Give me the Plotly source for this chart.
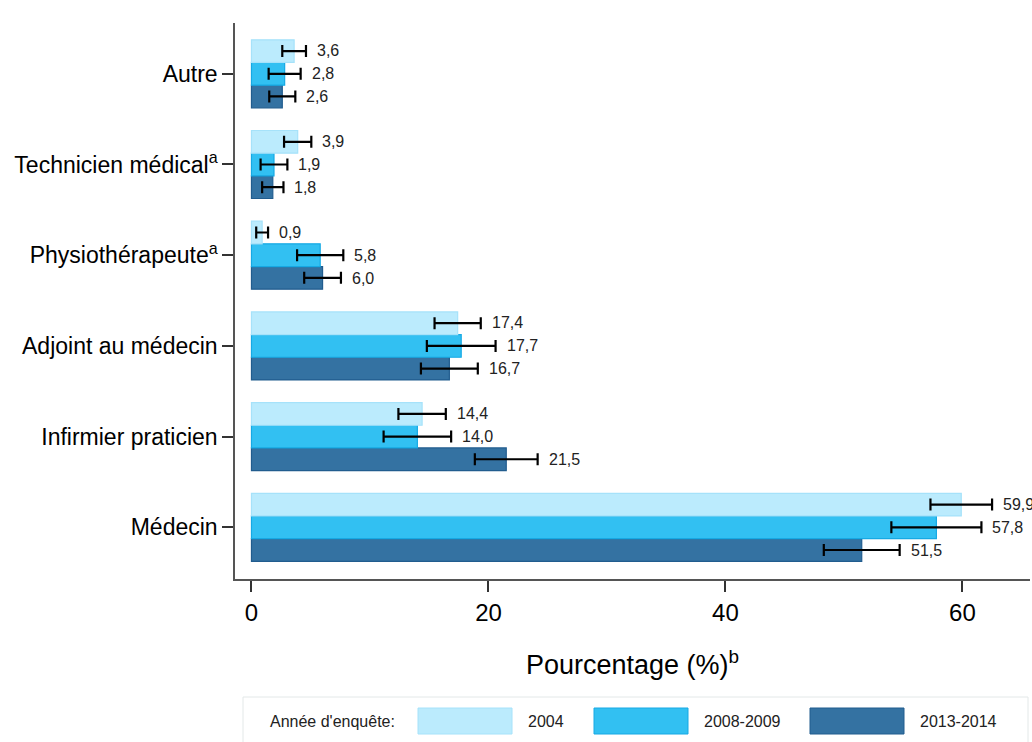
import plotly.graph_objects as go

# Categories, bottom to top as drawn on the y axis
categories = ["Médecin", "Infirmier praticien", "Adjoint au médecin",
              "Physiothérapeute<sup>a</sup>", "Technicien médical<sup>a</sup>", "Autre"]

years = ["2004", "2008-2009", "2013-2014"]

# Percentages per survey year (same order as categories)
pct_2004 = [59.9, 14.4, 17.4, 0.9, 3.9, 3.6]
pct_2008 = [57.8, 14.0, 17.7, 5.8, 1.9, 2.8]
pct_2013 = [51.5, 21.5, 16.7, 6.0, 1.8, 2.6]

# Half-width of the confidence intervals
err_2004 = [2.6, 2.0, 1.95, 0.5, 1.15, 1.0]
err_2008 = [3.8, 2.85, 2.9, 1.95, 1.13, 1.35]
err_2013 = [3.2, 2.65, 2.4, 1.55, 0.9, 1.1]

fills = ["#BBEBFD", "#32C0F2", "#3472A2"]
edges = ["#A6E2FA", "#16A9E4", "#215C8E"]

series = [pct_2004, pct_2008, pct_2013]
errors = [err_2004, err_2008, err_2013]

FONT = "Liberation Sans, Arial, sans-serif"

fig = go.Figure()

# Traces are added last-year first so that 2004 sits on top of each group
for i in [2, 1, 0]:
    fig.add_trace(go.Bar(
        y=categories, x=series[i], orientation="h", name=years[i],
        marker=dict(color=fills[i], line=dict(color=edges[i], width=1.2)),
        error_x=dict(type="data", array=errors[i], color="black",
                     thickness=2.2, width=6),
        showlegend=False,
    ))

# Value labels just right of each error bar
for i in [2, 1, 0]:
    for j, cat in enumerate(categories):
        v = series[i][j]
        fig.add_annotation(
            x=v + errors[i][j], y=cat, xref="x", yref="y",
            text=f"{v:.1f}".replace(".", ","), showarrow=False,
            xanchor="left", xshift=9,
            yshift={0: 23, 1: 0, 2: -23}[i],
            font=dict(family=FONT, size=16, color="#222"),
        )

W, H = 1032, 742
L, R, T, B = 235, 2, 23, 163
pw, ph = W - L - R, H - T - B


def px(x):
    return (x - L) / pw


def py(y):
    return (H - B - y) / ph


# Custom legend strip below the axis
fig.add_shape(type="rect", xref="paper", yref="paper",
              x0=px(243), x1=px(1028), y0=py(697), y1=py(745),
              line=dict(color="#E3E8E8", width=1), fillcolor="white")
fig.add_annotation(xref="paper", yref="paper", x=px(268), y=py(721),
                   text="Année d'enquête:", showarrow=False,
                   xanchor="left", yanchor="middle",
                   font=dict(family=FONT, size=16, color="#222"))
sw_x = [418, 594, 810]
for k in range(3):
    fig.add_shape(type="rect", xref="paper", yref="paper",
                  x0=px(sw_x[k]), x1=px(sw_x[k] + 94), y0=py(734), y1=py(708),
                  line=dict(color=edges[k], width=1), fillcolor=fills[k])
    fig.add_annotation(xref="paper", yref="paper", x=px(sw_x[k] + 108), y=py(721),
                       text=years[k], showarrow=False,
                       xanchor="left", yanchor="middle",
                       font=dict(family=FONT, size=16, color="#222"))

fig.update_layout(
    width=W, height=H,
    margin=dict(l=L, r=R, t=T, b=B),
    paper_bgcolor="white", plot_bgcolor="white",
    barmode="group", bargap=0.25, bargroupgap=0,
    font=dict(family=FONT, color="black"),
    xaxis=dict(
        range=[-1.39, 65.7], tickvals=[0, 20, 40, 60],
        showgrid=False, zeroline=False,
        showline=True, linecolor="#555", linewidth=1.5,
        ticks="outside", ticklen=11, tickcolor="#333", tickwidth=1.5,
        tickfont=dict(size=24, color="black"),
        title=dict(text="Pourcentage (%)<sup>b</sup>", standoff=31,
                   font=dict(size=27, color="black")),
    ),
    yaxis=dict(
        range=[-0.57, 5.56],
        showgrid=False, zeroline=False,
        showline=True, linecolor="#555", linewidth=1.5,
        ticks="outside", ticklen=11, tickcolor="#333", tickwidth=1.5,
        tickfont=dict(size=23, color="black"),
    ),
)

fig.write_html("out.html")
